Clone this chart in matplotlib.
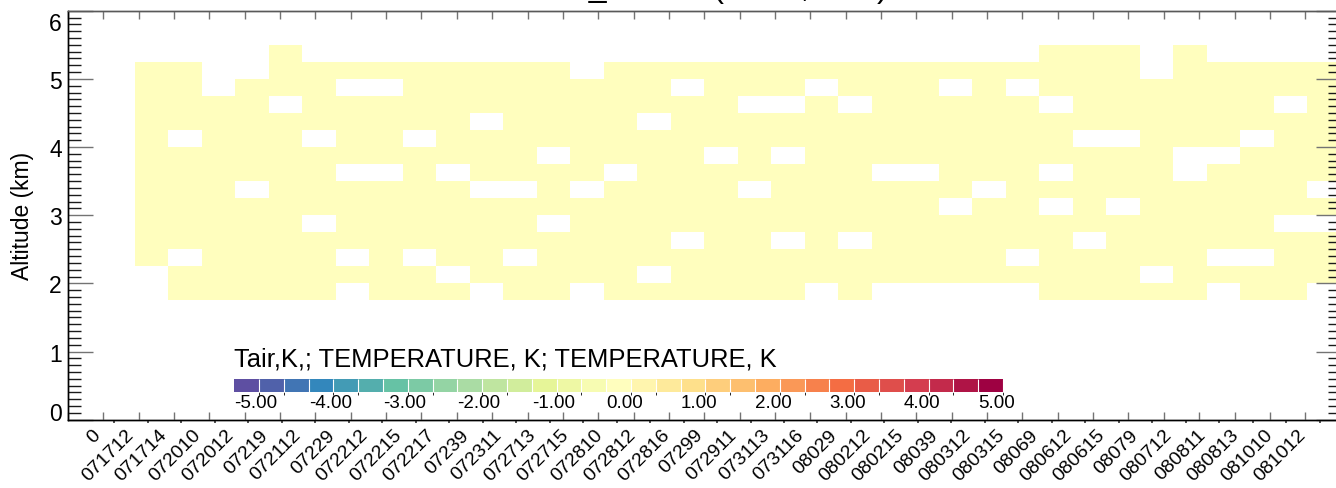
import numpy as np
import matplotlib
matplotlib.use("Agg")
import matplotlib.pyplot as plt
from matplotlib.colors import ListedColormap, BoundaryNorm
from matplotlib.ticker import MultipleLocator, FixedLocator
import matplotlib.transforms as mtransforms

plt.rcParams["font.family"] = ["Liberation Sans", "DejaVu Sans"]

# flight/date labels along x (label i sits at x = i)
flight_labels = [
    "0", "071712", "071714", "072010", "072012", "07219", "072112", "07229",
    "072212", "072215", "072217", "07239", "072311", "072713", "072715",
    "072810", "072812", "072816", "07299", "072911", "073113", "073116",
    "08029", "080212", "080215", "08039", "080312", "080315", "08069",
    "080612", "080615", "08079", "080712", "080811", "080813", "081010",
    "081012",
]

# altitude bin edges [km]
alt_edges = [1.75, 2.0, 2.25, 2.5, 2.75, 3.0, 3.25, 3.5, 3.75, 4.0,
             4.25, 4.5, 4.75, 5.0, 5.25, 5.5]
alt_ticks = [0, 1, 2, 3, 4, 5, 6]

# coverage per altitude bin, top bin first; one char per flight 071712..081012
# '#' = value present (all ~0 K), '.' = no data
coverage = [
    "....#......................###.#....",  # 5.25-5.50
    "##..#########.################.#####",  # 5.00-5.25
    "##.###..########.###.###.#.#########",  # 4.75-5.00
    "####.#############..#.#####.######.#",  # 4.50-4.75
    "##########.####.####################",  # 4.25-4.50
    "#.###.##.###################..###.##",  # 4.00-4.25
    "############.####.#.###########..###",  # 3.75-4.00
    "######..#.####.#######..###.###.####",  # 3.50-3.75
    "###.######..#.####.######.#########.",  # 3.25-3.50
    "########################.##.#.######",  # 3.00-3.25
    "#####.######.#####################..",  # 2.75-3.00
    "################.##.#.######.#######",  # 2.50-2.75
    "#.####.#.##.##############.#####..##",  # 2.25-2.50
    ".########.#####.##############.#####",  # 2.00-2.25
    ".#####.###.##.######.#.....#####.##.",  # 1.75-2.00
]
cell_value = 0.0  # every reported cell is ~0 K

# colour scale: 31 boxes from -5 to 5 (step 1/3)
cbar_ticks = [-5, -4, -3, -2, -1, 0, 1, 2, 3, 4, 5]

W, H = 1336, 489
fig = plt.figure(figsize=(W / 100, H / 100), dpi=100)
ax = fig.add_axes([68 / W, 1 - 420.7 / H, (1340.6 - 68) / W, (420.7 - 11.7) / H])

grid = np.array([[cell_value if ch == "#" else np.nan for ch in row]
                 for row in coverage[::-1]])
ncol = grid.shape[1]
x_edges = np.arange(1, ncol + 2)

colors = plt.get_cmap("Spectral_r")(np.linspace(0, 1, 31))
cmap = ListedColormap(colors)
bounds = np.linspace(cbar_ticks[0], cbar_ticks[-1] + 1 / 3, 32)
norm = BoundaryNorm(bounds, cmap.N)

mesh = ax.pcolormesh(x_edges, alt_edges, np.ma.masked_invalid(grid),
                     cmap=cmap, norm=norm, shading="flat")

ax.set_xlim(-1, len(flight_labels))
ax.set_ylim(alt_ticks[0], alt_ticks[-1])

# y axis
ax.set_yticks(alt_ticks)
ax.yaxis.set_minor_locator(MultipleLocator(0.1))
ax.tick_params(axis="y", which="major", direction="in", length=18, width=1,
               color="0.45", left=True, right=True, labelsize=16.5, pad=4.5)
ax.tick_params(axis="y", which="minor", direction="in", length=9.2, width=1,
               color="0.1", left=True, right=True)
ax.set_ylabel("Altitude (km)", fontsize=16.5)
ax.yaxis.set_label_coords((34 - 68) / (1340.6 - 68), 0.5)
ylabels = ax.get_yticklabels()
ylabels[0].set_va("baseline")
ylabels[-1].set_va("top")
ylabels[-1].set_transform(ylabels[-1].get_transform()
                          + mtransforms.ScaledTranslation(0, -1.5 / 100,
                                                          fig.dpi_scale_trans))

# x axis: category labels with tiny outward ticks
ax.xaxis.set_major_locator(FixedLocator(np.arange(len(flight_labels)) + 0.38))
ax.set_xticklabels(flight_labels, rotation=45, ha="right", fontsize=14)
ax.tick_params(axis="x", which="major", direction="out", length=2, width=1.2,
               color="0.2", pad=2.5)
shift = mtransforms.ScaledTranslation(-10.5 / 100, 0, fig.dpi_scale_trans)
for lab in ax.get_xticklabels():
    lab.set_transform(lab.get_transform() + shift)

# evenly spaced inward ticks on top and bottom
ax2 = ax.twiny()
ax2.set_xlim(0, 36)
ax2.xaxis.set_major_locator(MultipleLocator(1))
ax2.tick_params(axis="x", which="major", direction="in", length=6, width=1,
                color="0.45", top=True, bottom=True,
                labeltop=False, labelbottom=False)
for a in (ax, ax2):
    for side in ("left", "bottom"):
        a.spines[side].set_color("black")
    for side in ("top", "right"):
        a.spines[side].set_color("0.35")
    for sp in a.spines.values():
        sp.set_linewidth(1.0)

# title (mostly above the canvas, as in the original)
fig.text(712 / W, 1 + 2.5 / H, "Tair_SC884 (C41a, C93)", ha="center",
         va="baseline", fontsize=23)

# colour bar
cax = fig.add_axes([234.3 / W, 1 - 393.3 / H, (1003 - 234.3) / W, 13.3 / H])
cb = fig.colorbar(mesh, cax=cax, orientation="horizontal", boundaries=bounds,
                  ticks=cbar_ticks, drawedges=True)
cb.outline.set_visible(False)
cb.dividers.set_color("white")
cb.dividers.set_linewidth(0.8)
cax.tick_params(length=0, pad=1.5, labelsize=13.5)
cax.set_xticklabels([f"{t:.2f}" for t in cbar_ticks], ha="left")
fig.text(234.3 / W, 1 - 366.7 / H, "Tair,K,; TEMPERATURE, K; TEMPERATURE, K",
         ha="left", va="baseline", fontsize=18.4)

fig.savefig("out.png", dpi=100)
